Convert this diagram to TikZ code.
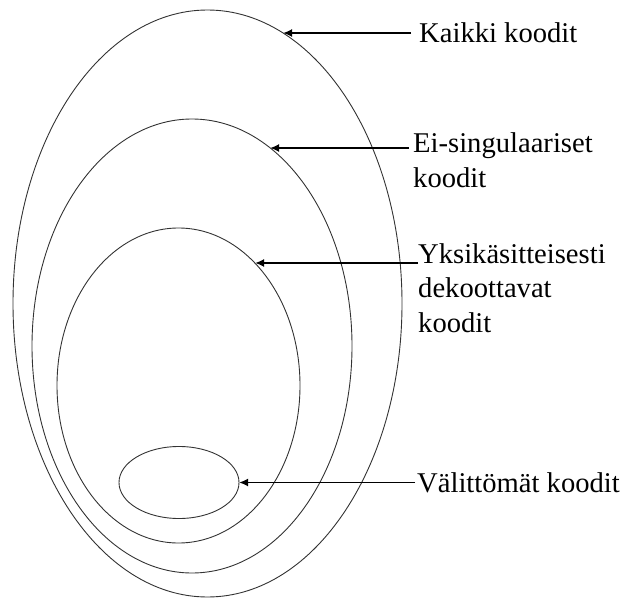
\documentclass[tikz,border=0pt]{standalone}
\usepackage{fontspec}
\setmainfont{Liberation Serif}
\newfontfamily\labelfont{Liberation Serif}
\usetikzlibrary{positioning, arrows.meta}

\begin{document}
\begin{tikzpicture}[x=1pt, y=-1pt,
        codeset/.style={draw=black!80, line width=0.9pt},
        lbl/.style={anchor=base west, inner sep=0pt, align=left, font=\labelfont\fontsize{28.6}{34.5}\selectfont},
        pointer/.style={-{Latex[length=9pt, width=8pt]}, line width=1.8pt},
    ]
    \useasboundingbox (0,0) rectangle (626,599);

    % Nested code classes
    \draw[codeset] (207.5,303.5) ellipse [x radius=194.5, y radius=293.5];
    \draw[codeset] (192,346) ellipse [x radius=160, y radius=227];
    \draw[codeset] (178.5,385.5) ellipse [x radius=121.5, y radius=157.5];
    \draw[codeset] (179,482.5) ellipse [x radius=60, y radius=36];

    % Arrow targets on the ellipses
    \coordinate (allTip) at (283,33);
    \coordinate (nonsingTip) at (270,148);
    \coordinate (uniqueTip) at (255,263);
    \coordinate (prefixTip) at (239,482.5);

    % Labels (base = last line)
    \node[lbl] (all) at (419,43) {Kaikki koodit};
    \node[lbl] (nonsing) at (413,187) {Ei-singulaariset\\koodit};
    \node[lbl] (unique) at (418,332) {Yksikäsitteisesti\\dekoottavat\\koodit};
    \node[lbl] (prefix) at (417,492) {Välittömät koodit};

    \draw[pointer] ([xshift=-8pt]allTip -| all.west) -- (allTip);
    \draw[pointer] ([xshift=-4pt]nonsingTip -| nonsing.west) -- (nonsingTip);
    \draw[pointer] (uniqueTip -| unique.west) -- (uniqueTip);
    \draw[pointer] ([xshift=-2pt]prefixTip -| prefix.west) -- (prefixTip);
\end{tikzpicture}
\end{document}
